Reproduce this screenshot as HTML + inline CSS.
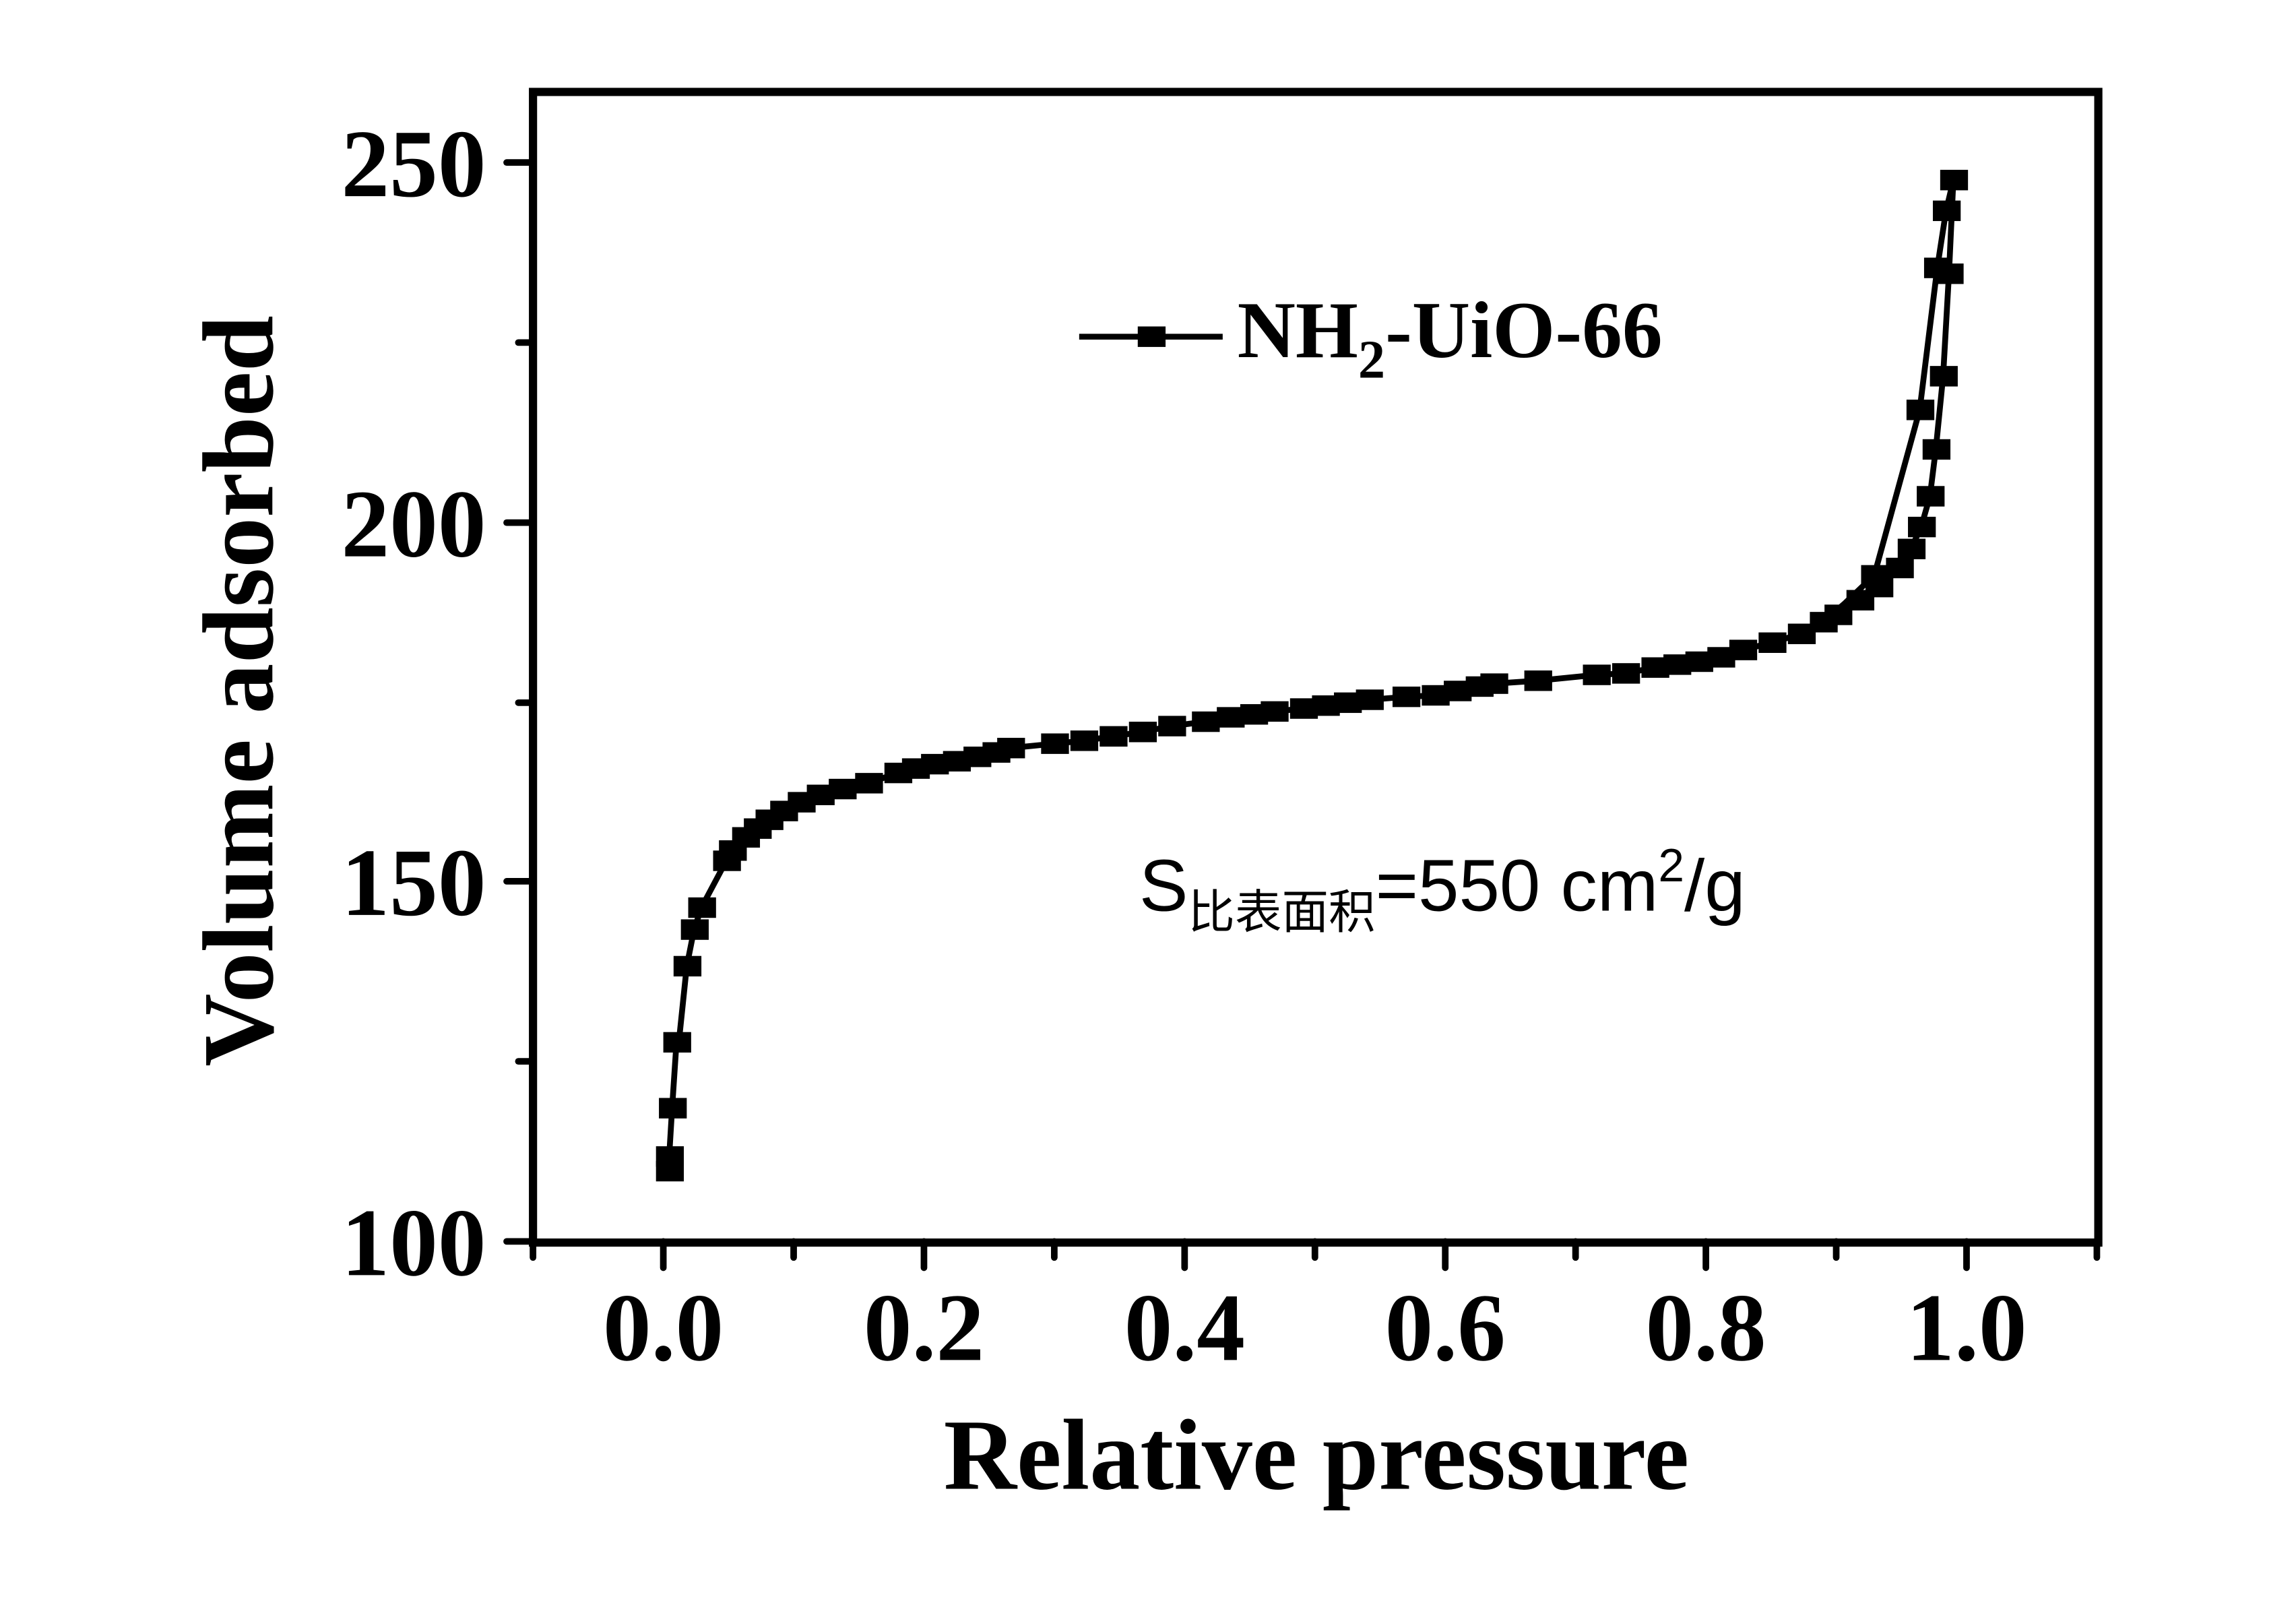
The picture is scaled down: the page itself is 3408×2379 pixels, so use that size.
<!DOCTYPE html>
<html><head><meta charset="utf-8"><style>html,body{margin:0;padding:0;background:#fff}svg{display:block}</style></head>
<body>
<svg width="3408" height="2379" viewBox="0 0 1568 1095" preserveAspectRatio="none" xmlns="http://www.w3.org/2000/svg">
<rect width="1568" height="1095" fill="#fff"/>
<rect x="364" y="62.8" width="1069" height="786" fill="none" stroke="#000" stroke-width="5.6"/>
<g stroke="#000" stroke-width="4.5" stroke-linecap="round">
<line x1="346" y1="111" x2="364" y2="111"/><line x1="346" y1="357" x2="364" y2="357"/><line x1="346" y1="602" x2="364" y2="602"/><line x1="346" y1="848" x2="364" y2="848"/>
<line x1="354" y1="234" x2="364" y2="234"/><line x1="354" y1="480" x2="364" y2="480"/><line x1="354" y1="725" x2="364" y2="725"/>
<line x1="453" y1="848" x2="453" y2="866"/><line x1="631" y1="848" x2="631" y2="866"/><line x1="809" y1="848" x2="809" y2="866"/><line x1="987" y1="848" x2="987" y2="866"/><line x1="1165" y1="848" x2="1165" y2="866"/><line x1="1343" y1="848" x2="1343" y2="866"/>
<line x1="364" y1="848" x2="364" y2="859"/><line x1="542" y1="848" x2="542" y2="859"/><line x1="720" y1="848" x2="720" y2="859"/><line x1="898" y1="848" x2="898" y2="859"/><line x1="1076" y1="848" x2="1076" y2="859"/><line x1="1254" y1="848" x2="1254" y2="859"/><line x1="1432" y1="848" x2="1432" y2="859"/>
</g>
<g font-family="Liberation Serif, serif" font-weight="bold" fill="#000">
<g text-anchor="end" font-size="66"><text x="332" y="134">250</text><text x="332" y="380">200</text><text x="332" y="625">150</text><text x="332" y="871">100</text></g>
<g text-anchor="middle" font-size="66"><text x="453" y="929">0.0</text><text x="631" y="929">0.2</text><text x="809" y="929">0.4</text><text x="987" y="929">0.6</text><text x="1165" y="929">0.8</text><text x="1343" y="929">1.0</text></g>
<g text-anchor="middle" font-size="69">
<text x="899" y="1017">Relative pressure</text>
<text transform="translate(186,472) rotate(-90)">Volume adsorbed</text></g>
</g>
<polyline fill="none" stroke="#000" stroke-width="4" stroke-linejoin="round" points="457,800 457,790 459,757 462,712 464,708 469,660 474,635 479,620 496,588 500,581 509,572 517,566 525,560 535,554 547,548 560,543 575,539 593,535 613,528 625,525 638,522 653,520 667,517 680,514 690,511 720,508 740,506 760,503 780,500 800,496 823,493 840,490 856,488 870,486 890,484 905,482 920,480 935,478 960,476 980,475 995,472 1010,469 1020,467 1050,465 1090,461 1110,460 1130,456 1145,454 1160,452 1175,449 1190,444 1210,439 1230,433 1245,425 1255,420 1270,410 1283,401 1297,388 1305,375 1312,360 1318,339 1322,307 1327,257 1331,187 1334,123"/>
<polyline fill="none" stroke="#000" stroke-width="4" stroke-linejoin="round" points="1334,123 1329,144 1323,183 1311,280 1280,393 1260,412 1245,425"/>
<g fill="#000" transform="translate(-1,-1)">
<rect x="449" y="794" width="19" height="14"/><rect x="449" y="784" width="19" height="14"/><rect x="451" y="751" width="19" height="14"/><rect x="454" y="706" width="19" height="14"/><rect x="461" y="654" width="19" height="14"/><rect x="466" y="629" width="19" height="14"/><rect x="471" y="614" width="19" height="14"/><rect x="488" y="582" width="19" height="14"/><rect x="492" y="575" width="19" height="14"/><rect x="501" y="566" width="19" height="14"/><rect x="509" y="560" width="19" height="14"/><rect x="517" y="554" width="19" height="14"/><rect x="527" y="548" width="19" height="14"/><rect x="539" y="542" width="19" height="14"/><rect x="552" y="537" width="19" height="14"/><rect x="567" y="533" width="19" height="14"/><rect x="585" y="529" width="19" height="14"/><rect x="605" y="522" width="19" height="14"/><rect x="617" y="519" width="19" height="14"/><rect x="630" y="516" width="19" height="14"/><rect x="645" y="514" width="19" height="14"/><rect x="659" y="511" width="19" height="14"/><rect x="672" y="508" width="19" height="14"/><rect x="682" y="505" width="19" height="14"/><rect x="712" y="502" width="19" height="14"/><rect x="732" y="500" width="19" height="14"/><rect x="752" y="497" width="19" height="14"/><rect x="772" y="494" width="19" height="14"/><rect x="792" y="490" width="19" height="14"/><rect x="815" y="487" width="19" height="14"/><rect x="832" y="484" width="19" height="14"/><rect x="848" y="482" width="19" height="14"/><rect x="862" y="480" width="19" height="14"/><rect x="882" y="478" width="19" height="14"/><rect x="897" y="476" width="19" height="14"/><rect x="912" y="474" width="19" height="14"/><rect x="927" y="472" width="19" height="14"/><rect x="952" y="470" width="19" height="14"/><rect x="972" y="469" width="19" height="14"/><rect x="987" y="466" width="19" height="14"/><rect x="1002" y="463" width="19" height="14"/><rect x="1012" y="461" width="19" height="14"/><rect x="1042" y="459" width="19" height="14"/><rect x="1082" y="455" width="19" height="14"/><rect x="1102" y="454" width="19" height="14"/><rect x="1122" y="450" width="19" height="14"/><rect x="1137" y="448" width="19" height="14"/><rect x="1152" y="446" width="19" height="14"/><rect x="1167" y="443" width="19" height="14"/><rect x="1182" y="438" width="19" height="14"/><rect x="1202" y="433" width="19" height="14"/><rect x="1222" y="427" width="19" height="14"/><rect x="1237" y="419" width="19" height="14"/><rect x="1247" y="414" width="19" height="14"/><rect x="1262" y="404" width="19" height="14"/><rect x="1275" y="395" width="19" height="14"/><rect x="1272" y="387" width="19" height="14"/><rect x="1289" y="382" width="19" height="14"/><rect x="1297" y="369" width="19" height="14"/><rect x="1304" y="354" width="19" height="14"/><rect x="1310" y="333" width="19" height="14"/><rect x="1314" y="301" width="19" height="14"/><rect x="1303" y="274" width="19" height="14"/><rect x="1319" y="251" width="19" height="14"/><rect x="1323" y="181" width="19" height="14"/><rect x="1315" y="177" width="19" height="14"/><rect x="1321" y="138" width="19" height="14"/><rect x="1326" y="117" width="19" height="14"/>
</g>
<line x1="737" y1="230" x2="835" y2="230" stroke="#000" stroke-width="4"/>
<rect x="777" y="223" width="19" height="14" fill="#000"/>
<text x="845" y="244" font-family="Liberation Serif, serif" font-weight="bold" font-size="55" fill="#000">NH<tspan font-size="37" dy="14">2</tspan><tspan dy="-14">-UiO-66</tspan></text>
<text x="778" y="622" font-family="Liberation Sans, 'Noto Sans CJK SC', sans-serif" font-size="50" fill="#000">S<tspan font-size="32" dy="12" font-family="'Noto Sans CJK SC', sans-serif">比表面积</tspan><tspan dy="-12">=550 cm</tspan><tspan font-size="32" dy="-20">2</tspan><tspan dy="20">/g</tspan></text>
</svg>
</body></html>
